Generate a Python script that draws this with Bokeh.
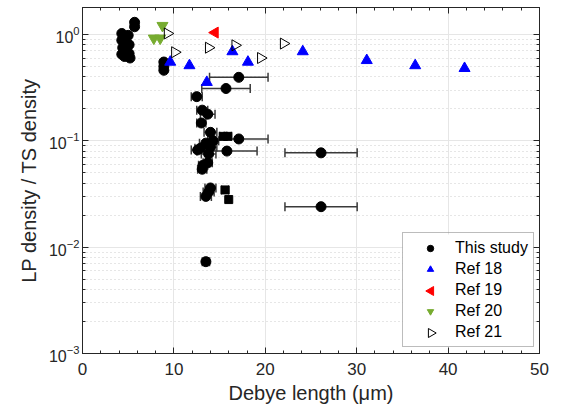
import numpy as np
from bokeh.plotting import figure
from bokeh.models import (ColumnDataSource, Whisker, TeeHead, LinearAxis, LogAxis,
                          FixedTicker, Range1d, Legend, LegendItem)
from bokeh.embed import file_html
from bokeh.resources import INLINE

# ---------------- data ----------------
# This study (filled circles); xerr = half width of horizontal error bar (0 = none)
study_x = [4.3, 4.3, 4.4, 4.3, 4.6, 4.8, 5.0, 5.1, 5.1, 5.2, 5.7, 5.7,
           8.9, 8.9, 8.9,
           17.1, 15.7, 12.5, 13.1, 13.7, 13.0, 14.0, 17.1, 13.5, 14.0, 14.3,
           12.9, 12.6, 13.8, 15.8, 13.2, 13.7, 13.1, 14.0, 13.8, 13.5,
           26.1, 26.1, 13.5]
study_y = [1.02, 0.88, 0.75, 0.65, 0.62, 0.70, 0.98, 0.80, 0.66, 0.60, 1.30, 1.18,
           0.55, 0.50, 0.46,
           0.395, 0.31, 0.26, 0.194, 0.178, 0.147, 0.12, 0.104, 0.095, 0.087, 0.10,
           0.085, 0.082, 0.075, 0.08, 0.059, 0.062, 0.054, 0.036, 0.033, 0.030,
           0.077, 0.024, 0.0073]
study_xerr = [0, 0, 0, 0, 0, 0, 0, 0, 0, 0, 0, 0,
              0, 0, 0,
              3.2, 2.65, 0.6, 0.6, 0.8, 0.5, 0.7, 3.2, 0.7, 0.7, 0.6,
              0.6, 0.7, 0.8, 3.3, 0.5, 0.5, 0.5, 0.6, 0.6, 0.6,
              3.95, 3.95, 0.4]

# This study, square markers
sq_x = [15.4, 15.9, 15.6, 16.0]
sq_y = [0.11, 0.11, 0.0345, 0.028]
sq_xerr = [0.4, 0.4, 0.4, 0.0]

ref18_x = [9.6, 11.7, 13.6, 16.4, 18.1, 24.1, 31.1, 36.4, 41.8]
ref18_y = [0.55, 0.51, 0.355, 0.69, 0.55, 0.69, 0.57, 0.51, 0.48]

ref19_x = [14.5]
ref19_y = [1.04]

ref20_x = [8.75, 7.8, 8.5]
ref20_y = [1.21, 0.92, 0.92]

ref21_x = [9.3, 10.1, 13.8, 16.7, 19.5, 22.0]
ref21_y = [1.02, 0.68, 0.75, 0.79, 0.60, 0.82]

legend_labels = ["This study", "Ref 18", "Ref 19", "Ref 20", "Ref 21"]
x_ticks = [0, 10, 20, 30, 40, 50]
y_ticks = [1e-3, 1e-2, 1e-1, 1e0]

# ---------------- layout geometry (pixels) ----------------
W, H = 561, 414
B_LEFT, B_RIGHT, B_TOP, B_BOTTOM = 82, 22, 7, 61
FRAME_W = W - B_LEFT - B_RIGHT
FRAME_H = H - B_TOP - B_BOTTOM
X0, X1 = 0, 50
LOG_LO, LOG_HI = -3.0, 0.253

def px_to_x(px):           # frame-relative pixels -> data x
    return X0 + px / FRAME_W * (X1 - X0)
def py_to_y(py):           # pixels above frame bottom -> data y (log)
    return 10 ** (LOG_LO + py / FRAME_H * (LOG_HI - LOG_LO))

FONT = "Liberation Sans"
p = figure(width=W, height=H, output_backend="svg", toolbar_location=None,
           x_range=Range1d(X0, X1), y_range=Range1d(10 ** LOG_LO, 10 ** LOG_HI),
           y_axis_type="log",
           min_border_left=B_LEFT, min_border_right=B_RIGHT,
           min_border_top=B_TOP, min_border_bottom=B_BOTTOM,
           x_axis_label="Debye length (μm)", y_axis_label="LP density / TS density")
p.background_fill_color = "white"
p.outline_line_color = "#262626"

y_minor = [m * 10.0 ** e for e in range(-3, 1) for m in range(2, 10)]
x_minor = list(np.arange(0, 50.1, 2))

for ax in (p.xaxis[0], p.yaxis[0]):
    ax.major_tick_in = 6
    ax.major_tick_out = 0
    ax.minor_tick_in = 3
    ax.minor_tick_out = 0
    ax.axis_line_color = "#262626"
    ax.major_tick_line_color = "#262626"
    ax.minor_tick_line_color = "#262626"
    ax.major_label_text_font = FONT
    ax.major_label_text_font_size = "17px"
    ax.major_label_text_color = "#262626"
    ax.axis_label_text_font = FONT
    ax.axis_label_text_font_size = "20px"
    ax.axis_label_text_font_style = "normal"
    ax.axis_label_text_color = "#262626"

p.xaxis[0].ticker = FixedTicker(ticks=x_ticks, minor_ticks=x_minor)
p.yaxis[0].ticker = FixedTicker(ticks=y_ticks, minor_ticks=y_minor)
p.xaxis[0].major_label_standoff = 9
p.xaxis[0].axis_label_standoff = 4
p.yaxis[0].major_label_standoff = 3
p.yaxis[0].major_label_text_font_size = "16px"
p.yaxis[0].axis_label_standoff = 6

# top/right box axes with ticks only (labels invisible)
axis_style = dict(major_label_text_font_size="1px", major_label_text_alpha=0,
                  major_tick_in=6, major_tick_out=0, minor_tick_in=3, minor_tick_out=0,
                  axis_line_color="#262626", major_tick_line_color="#262626",
                  minor_tick_line_color="#262626", major_label_standoff=0)
top = LinearAxis(ticker=FixedTicker(ticks=x_ticks, minor_ticks=x_minor), **axis_style)
right = LogAxis(ticker=FixedTicker(ticks=y_ticks, minor_ticks=y_minor), **axis_style)
p.add_layout(top, "above")
p.add_layout(right, "right")

p.xgrid.grid_line_color = "#e6e6e6"
p.xgrid.ticker = FixedTicker(ticks=x_ticks)
p.ygrid.grid_line_color = "#e6e6e6"
p.ygrid.ticker = FixedTicker(ticks=y_ticks, minor_ticks=y_minor)
p.ygrid.minor_grid_line_color = "#cccccc"
p.ygrid.minor_grid_line_dash = "1 3"

# ---------------- legend geometry & background ----------------
LEG_LEFT, LEG_BOTTOM = 320, 6          # relative to frame bottom-left (px)
PAD, GLYPH_W, LABEL_H, SPACING = 5, 44, 19, 2
LEG_W = 132
n_items = len(legend_labels)
LEG_H = 2 * PAD + n_items * LABEL_H + (n_items - 1) * SPACING
# white legend panel drawn as a glyph so that rotated legend icons can sit on top
p.quad(left=px_to_x(LEG_LEFT), right=px_to_x(LEG_LEFT + LEG_W),
       bottom=py_to_y(LEG_BOTTOM), top=py_to_y(LEG_BOTTOM + LEG_H),
       fill_color="white", line_color=None)

# ---------------- error bars ----------------
sx = np.array(study_x + sq_x)
sy = np.array(study_y + sq_y)
se = np.array(study_xerr + sq_xerr)
m = se > 0
err_src = ColumnDataSource(dict(y=sy[m], lo=sx[m] - se[m], hi=sx[m] + se[m]))
w = Whisker(source=err_src, base="y", lower="lo", upper="hi", dimension="width",
            line_color="#3a3a3a", line_width=1.5,
            lower_head=TeeHead(size=9, line_color="#3a3a3a", line_width=1.5),
            upper_head=TeeHead(size=9, line_color="#3a3a3a", line_width=1.5))
p.add_layout(w)

# ---------------- markers ----------------
GREEN = "#77ac30"
r_study = p.scatter(study_x, study_y, marker="circle", size=10, fill_color="black",
                    line_color="black")
p.scatter(sq_x, sq_y, marker="square", size=8, fill_color="black", line_color="black")
r18 = p.scatter(ref18_x, ref18_y, marker="triangle", size=11, fill_color="#0000ff",
                line_color="#0000ff")
r19 = p.scatter(ref19_x, ref19_y, marker="triangle", angle=np.pi / 2, size=11,
                fill_color="#ff0000", line_color="#ff0000")
r20 = p.scatter(ref20_x, ref20_y, marker="inverted_triangle", size=11,
                fill_color=GREEN, line_color=GREEN)
r21 = p.scatter(ref21_x, ref21_y, marker="triangle", angle=-np.pi / 2, size=11,
                fill_color=None, line_color="black", line_width=1)

# invisible stand-ins for the rotated markers (legend glyphs ignore angle)
blank19 = p.scatter([], [], marker="triangle", fill_alpha=0, line_alpha=0)
blank21 = p.scatter([], [], marker="triangle", fill_alpha=0, line_alpha=0)

legend = Legend(items=[LegendItem(label=legend_labels[0], renderers=[r_study]),
                       LegendItem(label=legend_labels[1], renderers=[r18]),
                       LegendItem(label=legend_labels[2], renderers=[blank19]),
                       LegendItem(label=legend_labels[3], renderers=[r20]),
                       LegendItem(label=legend_labels[4], renderers=[blank21])],
                location=(LEG_LEFT, LEG_BOTTOM), padding=PAD, spacing=SPACING,
                glyph_width=GLYPH_W, glyph_height=16, label_height=LABEL_H,
                label_standoff=3, margin=0,
                label_text_font=FONT, label_text_font_size="16px",
                label_text_color="black",
                border_line_color="#7a7a7a", border_line_width=1,
                background_fill_alpha=0)
p.add_layout(legend, "center")

# rotated legend icons (under the transparent legend, above the white panel)
def item_center_from_bottom(i):
    return LEG_BOTTOM + LEG_H - PAD - i * (LABEL_H + SPACING) - LABEL_H / 2
gx = px_to_x(LEG_LEFT + PAD + GLYPH_W / 2 + 1.5)
p.scatter([gx], [py_to_y(item_center_from_bottom(2))], marker="triangle",
          angle=np.pi / 2, size=9, fill_color="#ff0000", line_color="#ff0000")
p.scatter([gx], [py_to_y(item_center_from_bottom(4))], marker="triangle",
          angle=-np.pi / 2, size=9, fill_color=None, line_color="black", line_width=1)

open("out.html", "w").write(file_html(p, INLINE))
